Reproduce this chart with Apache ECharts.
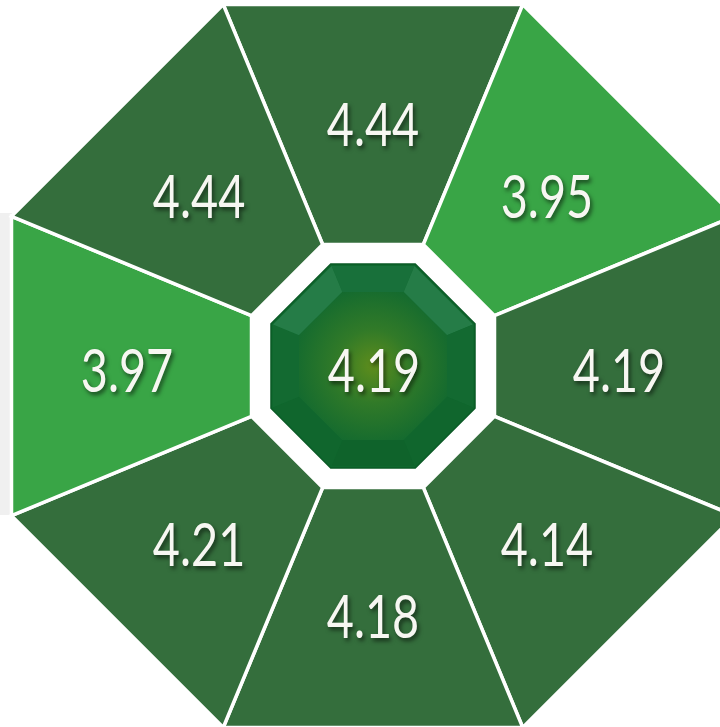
<!DOCTYPE html>
<html>
<head>
<meta charset="utf-8">
<script src="https://cdn.jsdelivr.net/npm/echarts@6/dist/echarts.min.js"></script>
<style>
html,body{margin:0;padding:0;background:#ffffff;}
#chart{width:720px;height:727px;}
</style>
</head>
<body>
<div id="chart"></div>
<script>
// Scores, clockwise starting from the top segment
const segmentValues = [4.44, 3.95, 4.19, 4.14, 4.18, 4.21, 3.97, 4.44];
// Overall score shown in the centre gem
const centerValue = 4.19;
// Colour bands for segment scores
const lowThreshold = 4.0;
const lowColor = '#39a546';
const highColor = '#346e3c';

// ---- layout (pixels) ----
const CX = 373, CY = 366;
const COS = Math.cos(Math.PI / 8);
const OUTER_AP = 361.5;   // outer octagon apothem
const RING_AP = 121.5;    // inner edge of segments
const CORE_AP = 102;      // centre gem outer
const GEM_AP = 74;        // centre gem inner face
const LABEL_R = 246;
const LABEL_DY = 7;
const N = segmentValues.length;
const STEP = 360 / N;
const HALF = STEP / 2;
const FONT = 'Lato,"Open Sans",sans-serif';

const chart = echarts.init(document.getElementById('chart'), null, {renderer: 'canvas'});

function vr(ap) { return ap / COS; }

function octPoints(api, ap) {
  const pts = [];
  for (let k = 0; k < N; k++) pts.push(api.coord([vr(ap), k * STEP + HALF]));
  return pts;
}

function labelText(x, y, txt) {
  return {
    type: 'text',
    x: x, y: y,
    scaleX: 0.78,
    style: {
      text: txt,
      fill: '#f7f7f2',
      fontSize: 60,
      fontFamily: FONT,
      align: 'center',
      verticalAlign: 'middle',
      textShadowColor: 'rgba(0,0,0,0.55)',
      textShadowBlur: 4,
      textShadowOffsetX: 2,
      textShadowOffsetY: 3
    },
    z2: 10
  };
}

function renderSegment(params, api) {
  const idx = api.value(0);
  const val = api.value(1);
  const a = idx * STEP;
  const rOut = vr(OUTER_AP), rIn = vr(RING_AP);
  const pts = [
    api.coord([rOut, a - HALF]),
    api.coord([rOut, a + HALF]),
    api.coord([rIn, a + HALF]),
    api.coord([rIn, a - HALF])
  ];
  const lp = api.coord([LABEL_R, a]);
  return {
    type: 'group',
    children: [
      {
        type: 'polygon',
        shape: {points: pts},
        style: {fill: api.visual('color'), stroke: '#ffffff', lineWidth: 3.5, lineJoin: 'miter'}
      },
      labelText(lp[0], lp[1] + LABEL_DY, val.toFixed(2))
    ]
  };
}

const facetColors = ['#18703a', '#257c47', '#136a31', '#10662d', '#0f632b', '#10662d', '#136a31', '#257c47'];

function renderCenter(params, api) {
  const val = api.value(1);
  const children = [];
  children.push({
    type: 'polygon',
    shape: {points: octPoints(api, CORE_AP)},
    style: {fill: '#0e682d', stroke: '#0b5a26', lineWidth: 1.5}
  });
  for (let k = 0; k < N; k++) {
    const a = k * STEP;
    children.push({
      type: 'polygon',
      shape: {points: [
        api.coord([vr(CORE_AP - 2), a - HALF]),
        api.coord([vr(CORE_AP - 2), a + HALF]),
        api.coord([vr(GEM_AP), a + HALF]),
        api.coord([vr(GEM_AP), a - HALF])
      ]},
      style: {fill: facetColors[k]}
    });
  }
  children.push({
    type: 'polygon',
    shape: {points: octPoints(api, GEM_AP)},
    style: {
      fill: {
        type: 'radial', x: 0.5, y: 0.5, r: 0.55,
        colorStops: [
          {offset: 0, color: '#5e8d1c'},
          {offset: 0.45, color: '#317a28'},
          {offset: 1, color: '#136a2f'}
        ]
      }
    }
  });
  const c = api.coord([0, 0]);
  children.push(labelText(c[0] + 1, c[1] + LABEL_DY, val.toFixed(2)));
  return {type: 'group', children: children};
}

const option = {
  backgroundColor: '#ffffff',
  animation: false,
  polar: {center: [CX, CY], radius: vr(OUTER_AP)},
  angleAxis: {type: 'value', min: 0, max: 360, startAngle: 90, clockwise: true, show: false},
  radiusAxis: {type: 'value', min: 0, max: vr(OUTER_AP), show: false},
  visualMap: {
    show: false,
    type: 'piecewise',
    seriesIndex: 0,
    dimension: 1,
    pieces: [
      {lt: lowThreshold, color: lowColor},
      {gte: lowThreshold, color: highColor}
    ]
  },
  graphic: [{
    type: 'rect', z: 0,
    shape: {x: 0, y: 213, width: 12, height: 302},
    style: {fill: '#f0f0f0'}
  }],
  series: [
    {
      type: 'custom',
      coordinateSystem: 'polar',
      renderItem: renderSegment,
      data: segmentValues.map((v, i) => [i, v]),
      z: 2
    },
    {
      type: 'custom',
      coordinateSystem: 'polar',
      renderItem: renderCenter,
      data: [[0, centerValue]],
      z: 3
    }
  ]
};
chart.setOption(option);
</script>
</body>
</html>
